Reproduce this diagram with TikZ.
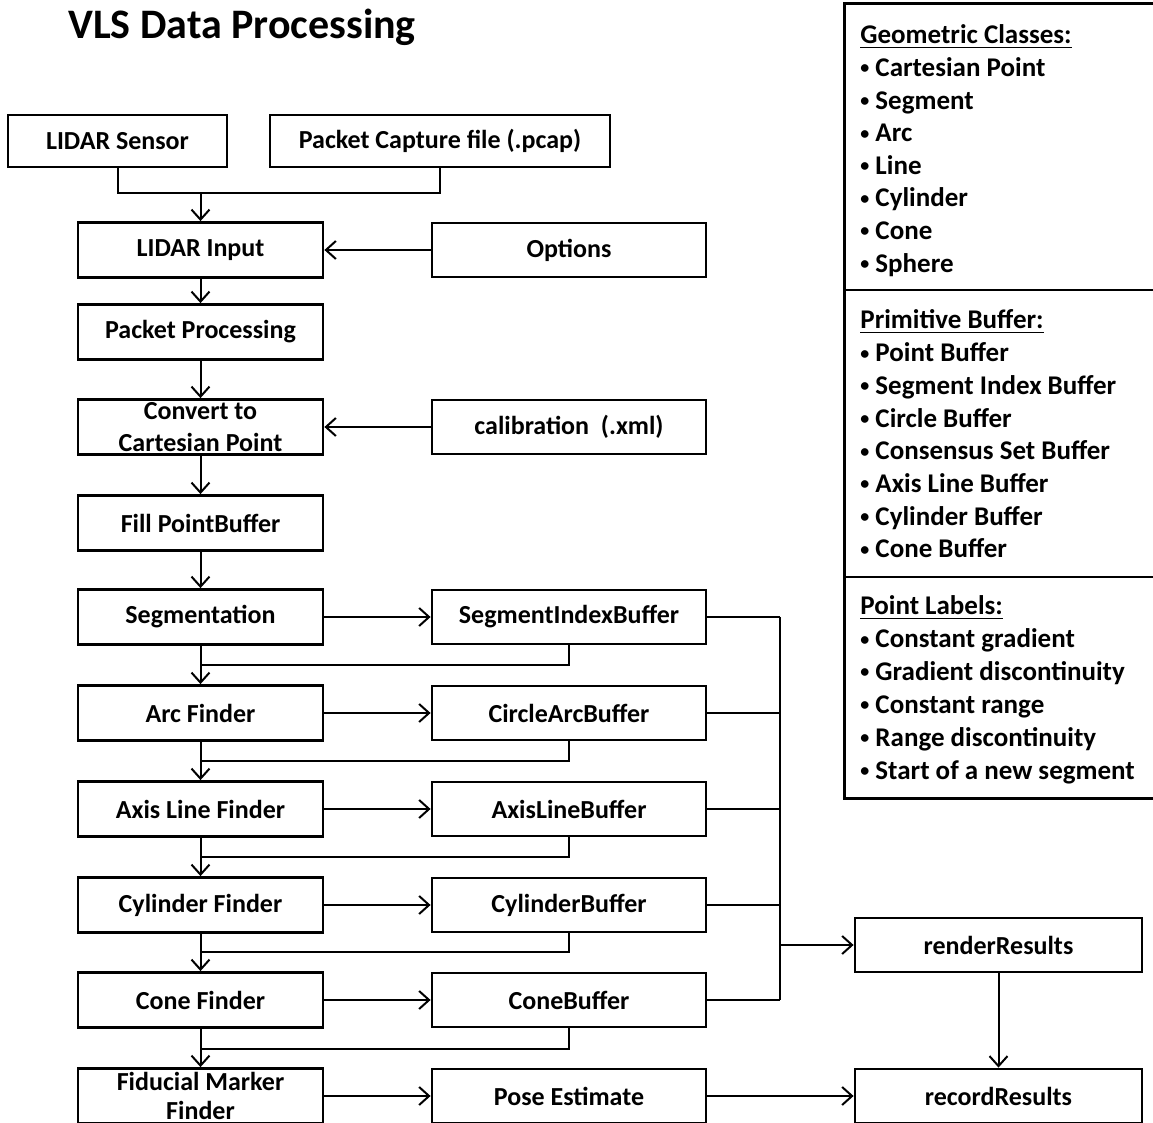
\documentclass[tikz,border=0pt]{standalone}
\usepackage{fontspec}
\setmainfont{Carlito}
\usetikzlibrary{arrows.meta}

\newcommand{\dotitem}{\raisebox{0.2ex}{\fontsize{9}{9}\selectfont\textbullet}\ }

\tikzset{
  box/.style={draw, line width=1.4pt, inner sep=0pt, align=center,
    font=\fontsize{13}{16}\selectfont\bfseries},
  stage/.style={box, minimum width=122.5pt, minimum height=27.5pt},
  buf/.style={box, minimum width=137pt, minimum height=27pt},
  outbox/.style={box, minimum width=143.5pt, minimum height=27pt},
  line/.style={line width=1pt},
  arr/.style={line, -{Straight Barb[length=5pt,width=9pt,line width=1pt]}},
  item/.style={anchor=base west, inner sep=0pt, font=\fontsize{13.5}{16}\selectfont\bfseries}
}

\begin{document}
\begin{tikzpicture}[x=0.5pt, y=-0.5pt]
  \useasboundingbox (0,0) rectangle (1153,1123);

  % title
  \node[anchor=west, inner sep=0pt, font=\fontsize{21}{24}\selectfont\bfseries] (title) at (68,27) {VLS Data Processing};

  % input side
  \node[box, minimum width=109.5pt, minimum height=26pt] (sensor) at (117.5,141) {LIDAR Sensor};
  \node[box, minimum width=170pt, minimum height=26pt] (pcap) at (440,141) {Packet Capture file (.pcap)};
  \coordinate (join) at (200.5,193);
  \draw[line] (sensor.south) |- (join);
  \draw[line] (pcap.south) |- (join);

  \node[stage] (input) at (200.5,250) {LIDAR Input};
  \node[buf] (options) at (569,250) {Options};
  \node[stage] (packet) at (200.5,332) {Packet Processing};
  \node[stage] (convert) at (200.5,427) {Convert to\\Cartesian Point};
  \node[buf] (calib) at (569,427) {calibration\ \ (.xml)};
  \node[stage] (fill) at (200.5,523) {Fill PointBuffer};

  \draw[arr] (join) -- (input);
  \draw[arr] (options) -- (input);
  \draw[arr] (input) -- (packet);
  \draw[arr] (packet) -- (convert);
  \draw[arr] (calib) -- (convert);
  \draw[arr] (convert) -- (fill);

  % finders and their buffers
  \foreach \n/\y/\a/\b in {seg/617/Segmentation/SegmentIndexBuffer,
                           arc/713/Arc Finder/CircleArcBuffer,
                           axis/809/Axis Line Finder/AxisLineBuffer,
                           cyl/905/Cylinder Finder/CylinderBuffer,
                           cone/1000/Cone Finder/ConeBuffer} {
    \node[stage] (\n) at (200.5,\y) {\a};
    \node[buf] (b\n) at (569,\y) {\b};
    \draw[arr] (\n) -- (b\n);
    \draw[line] (b\n.east) -- (780,\y);
  }
  \node[stage, font=\fontsize{13}{14.5}\selectfont\bfseries] (fid) at (200.5,1096) {Fiducial Marker\\Finder};
  \node[buf] (pose) at (569,1096) {Pose Estimate};
  \draw[arr] (fid) -- (pose);

  \draw[arr] (fill) -- (seg);
  \foreach \a/\b/\y in {seg/arc/665, arc/axis/761, axis/cyl/857, cyl/cone/952, cone/fid/1049} {
    \draw[arr] (\a) -- (\b);
    \draw[line] (b\a.south) |- (\a.south |- 0,\y);
  }

  % outputs
  \node[outbox] (render) at (998.5,945) {renderResults};
  \node[outbox] (record) at (998.5,1096) {recordResults};
  \coordinate (bustop) at (780,617);
  \coordinate (busend) at (780,1000);
  \draw[line] (bustop) -- (busend);
  \draw[arr] (780,945) -- (render);
  \draw[arr] (render) -- (record);
  \draw[arr] (pose) -- (record);

  % legend panel
  \node[draw, line width=1.4pt, anchor=north west, minimum width=165pt, minimum height=397.5pt, inner sep=0pt] (panel) at (843,2) {};
  \draw[line width=1.4pt] (843,290) -- (1165,290);
  \draw[line width=1.4pt] (843,577) -- (1165,577);

  \node[item] (gc) at (860,44) {\underline{Geometric Classes:}};
  \foreach \t [count=\i] in {Cartesian Point, Segment, Arc, Line, Cylinder, Cone, Sphere}
    \node[item] (gc\i) at (860,{44+32.6*\i}) {\dotitem\t};

  \node[item] (pb) at (860,329) {\underline{Primitive Buffer:}};
  \foreach \t [count=\i] in {Point Buffer, Segment Index Buffer, Circle Buffer, Consensus Set Buffer,
                             Axis Line Buffer, Cylinder Buffer, Cone Buffer}
    \node[item] (pb\i) at (860,{329+32.7*\i}) {\dotitem\t};

  \node[item] (pl) at (860,615) {\underline{Point Labels:}};
  \foreach \t [count=\i] in {Constant gradient, Gradient discontinuity, Constant range,
                             Range discontinuity, Start of a new segment}
    \node[item] (pl\i) at (860,{615+32.8*\i}) {\dotitem\t};
\end{tikzpicture}
\end{document}
